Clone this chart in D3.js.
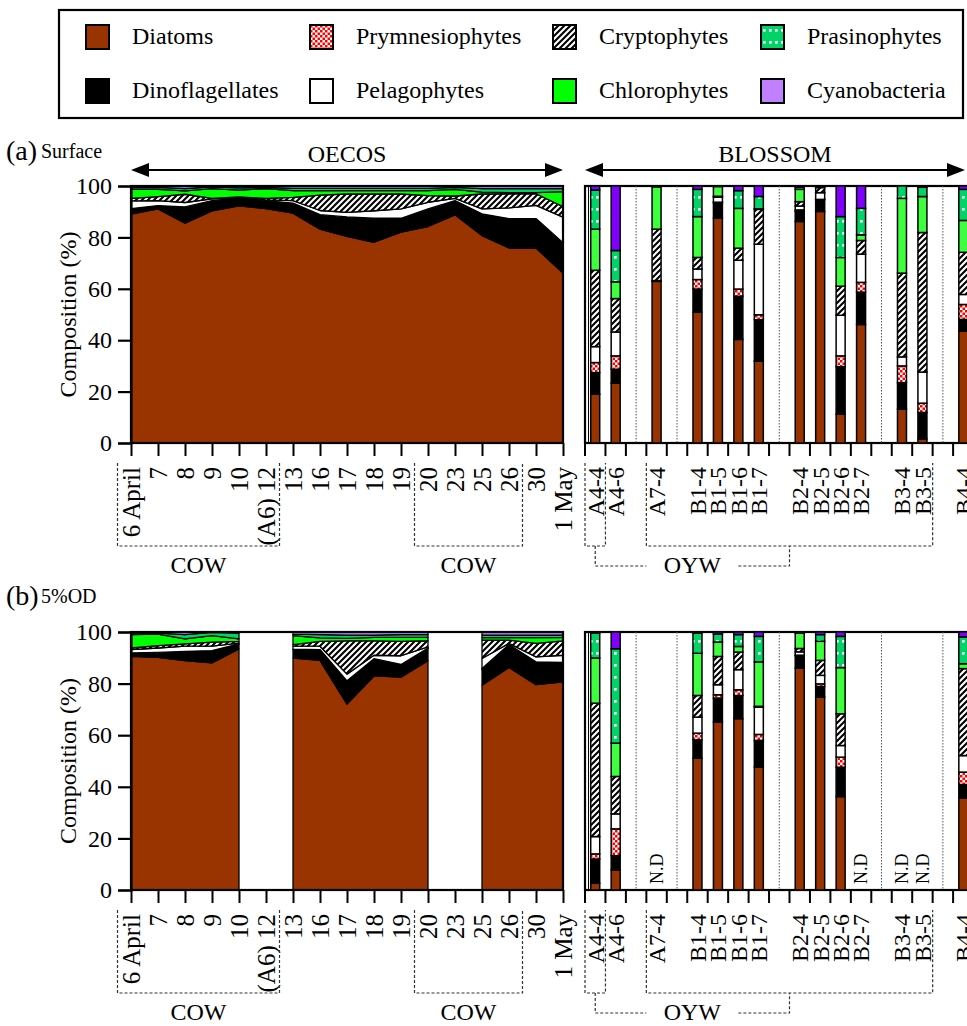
<!DOCTYPE html>
<html>
<head>
<meta charset="UTF-8">
<style>
    * { margin: 0; padding: 0; }
    body { background: #fff; }
    svg { display: block; font-family: "Liberation Serif", "Times New Roman", serif; }
</style>
<script src="https://d3js.org/d3.v7.min.js"></script>
<title>Phytoplankton composition</title>
</head>
<body>
<svg id="chart" width="967" height="1026"></svg>
<script>
// ---------- data ----------
var groups = ["Diatoms", "Dinoflagellates", "Prymnesiophytes", "Pelagophytes",
              "Cryptophytes", "Chlorophytes", "Prasinophytes", "Cyanobacteria"];

var dates = ["6 April", "7", "8", "9", "10", "(A6) 12", "13", "16", "17", "18",
             "19", "20", "23", "25", "26", "30", "1 May"];

// slots of the BLOSSOM panel, "|" entries are empty separator slots
var slots = ["A4-4", "A4-6", "|1", "A7-4", "|2", "B1-4", "B1-5", "B1-6", "B1-7", "|3",
             "B2-4", "B2-5", "B2-6", "B2-7", "|4", "B3-4", "B3-5", "|5", "B4-4"];
var stations = ["A4-4", "A4-6", "A7-4", "B1-4", "B1-5", "B1-6", "B1-7",
                "B2-4", "B2-5", "B2-6", "B2-7", "B3-4", "B3-5", "B4-4"];

// (a) surface, OECOS (%)
var aDia = [89.1, 91.1, 85.3, 90.3, 92.0, 91.2, 89.1, 82.9, 80.1, 77.8, 81.7, 83.9, 88.8, 80.4, 75.5, 75.5, 66.1];
var aDin = [1.9, 1.1, 6.0, 3.8, 3.1, 3.0, 3.7, 5.3, 7.0, 8.8, 5.0, 6.5, 5.3, 8.1, 11.0, 11.0, 11.3];
var aPry = [0.2, 0.2, 0.3, 0.2, 0.1, 0.1, 0.2, 0.3, 0.5, 0.5, 0.4, 0.3, 0.2, 0.3, 0.4, 0.4, 0.5];
var aPel = [3.0, 1.9, 1.7, 0.7, 0.2, 0.3, 0.9, 1.6, 1.8, 2.9, 3.6, 2.6, 0.9, 1.9, 4.1, 5.1, 10.0];
var aCry = [1.0, 1.6, 3.2, 0.2, 0.1, 0.6, 1.3, 6.0, 7.1, 6.5, 5.8, 2.6, 0.9, 5.8, 5.5, 4.5, 4.1];
var aChl = [3.5, 2.8, 1.3, 3.8, 2.6, 3.8, 2.6, 1.7, 1.3, 1.3, 1.3, 1.9, 2.6, 0.7, 0.4, 0.4, 5.8];
var aPra = [0.7, 0.8, 0.9, 0.7, 0.9, 0.5, 0.9, 0.9, 0.9, 0.9, 0.9, 0.9, 0.8, 1.4, 1.6, 1.6, 1.2];
var aCya = [0.6, 0.5, 1.0, 0.3, 0.7, 0.5, 0.9, 0.9, 0.9, 0.9, 0.9, 0.9, 0.5, 1.0, 1.0, 1.0, 1.0];

// (b) 5%OD, OECOS (%), null = no sample
var bDia = [90.6, 90.2, 88.9, 88.0, 93.4, null, 89.9, 89.0, 71.9, 82.8, 82.5, 88.9, null, 79.0, 85.8, 79.2, 80.5];
var bDin = [1.0, 1.6, 3.3, 4.5, 1.8, null, 3.3, 3.9, 8.5, 6.3, 4.6, 4.6, null, 6.0, 8.5, 8.4, 7.1];
var bPry = [0.3, 0.3, 0.3, 0.3, 0.2, null, 0.2, 0.3, 0.5, 0.4, 0.3, 0.3, null, 0.4, 0.4, 0.4, 0.4];
var bPel = [1.3, 1.7, 2.0, 1.7, 0.3, null, 1.1, 1.3, 2.6, 1.3, 3.4, 0.4, null, 3.9, 0.4, 1.9, 2.8];
var bCry = [0.6, 0.9, 0.9, 1.6, 0.7, null, 0.6, 1.9, 12.9, 5.6, 5.6, 2.4, null, 7.1, 1.3, 5.2, 5.6];
var bChl = [5.2, 4.5, 1.9, 2.5, 0.9, null, 3.5, 1.3, 0.9, 1.3, 1.5, 1.3, null, 0.9, 0.9, 2.2, 1.3];
var bPra = [0.6, 0.4, 1.7, 1.3, 2.3, null, 0.6, 1.3, 1.3, 0.9, 1.1, 1.1, null, 1.0, 1.0, 1.0, 0.9];
var bCya = [0.4, 0.4, 1.0, 0.1, 0.4, null, 0.8, 1.0, 1.2, 1.2, 1.0, 1.0, null, 1.2, 1.2, 1.2, 1.2];

// (a) surface, BLOSSOM stations (%)
var sDia = [19.0, 23.3, 62.9, 50.9, 87.5, 40.3, 31.9, 86.2, 90.1, 11.2, 46.1, 13.2, 1.6, 43.5];
var sDin = [8.4, 5.4, 0.3, 9.0, 6.0, 16.8, 16.2, 3.9, 4.5, 18.5, 12.6, 10.3, 10.3, 4.6];
var sPry = [3.9, 5.2, 0.0, 3.7, 0.2, 2.8, 1.9, 0.6, 0.2, 4.2, 3.8, 6.5, 3.6, 5.8];
var sPel = [6.2, 9.3, 0.0, 4.1, 2.0, 11.2, 27.5, 1.5, 2.6, 15.8, 11.0, 3.5, 12.1, 3.9];
var sCry = [29.7, 13.0, 20.0, 4.5, 0.3, 4.7, 13.6, 1.7, 2.0, 11.3, 5.3, 32.6, 54.3, 16.4];
var sChl = [16.0, 6.5, 16.5, 15.9, 3.8, 15.5, 0.2, 4.8, 0.3, 11.2, 2.2, 29.1, 14.0, 12.4];
var sPra = [15.2, 12.2, 0.2, 10.6, 0.1, 6.9, 4.8, 0.8, 0.2, 15.9, 10.3, 4.8, 3.6, 12.1];
var sCya = [1.6, 25.1, 0.1, 1.3, 0.1, 1.8, 4.1, 0.5, 0.1, 11.9, 8.7, 0.0, 0.5, 1.3];

// (b) 5%OD, BLOSSOM stations (%), null = N.D
var tDia = [2.6, 7.8, null, 51.1, 65.3, 66.4, 47.6, 86.2, 74.8, 36.2, null, null, null, 35.7];
var tDin = [9.4, 5.5, null, 7.1, 9.3, 9.0, 10.4, 4.7, 4.1, 11.4, null, null, null, 5.2];
var tPry = [2.0, 10.4, null, 2.6, 1.3, 2.2, 2.3, 0.3, 1.0, 3.9, null, null, null, 4.8];
var tPel = [6.7, 5.8, null, 6.2, 3.9, 7.8, 10.6, 1.3, 3.3, 4.5, null, null, null, 6.4];
var tCry = [51.7, 14.5, null, 8.4, 11.0, 6.8, 0.3, 1.3, 5.8, 12.3, null, null, null, 33.7];
var tChl = [17.5, 12.9, null, 16.4, 5.6, 2.2, 17.2, 6.0, 7.4, 17.9, null, null, null, 1.9];
var tPra = [9.7, 36.6, null, 7.8, 3.1, 4.6, 9.9, 0.2, 2.6, 12.1, null, null, null, 10.4];
var tCya = [0.4, 6.5, null, 0.4, 0.8, 1.0, 1.7, 0.2, 1.0, 1.7, null, null, null, 1.9];

// ---------- helpers ----------
function rows(names, key, cols) {
    return names.map(function (n, i) {
        var r = {}; r[key] = n; r.valid = cols[0][i] != null;
        groups.forEach(function (g, k) { r[g] = cols[k][i] || 0; });
        return r;
    });
}
var areaA = rows(dates, "date", [aDia, aDin, aPry, aPel, aCry, aChl, aPra, aCya]);
var areaB = rows(dates, "date", [bDia, bDin, bPry, bPel, bCry, bChl, bPra, bCya]);
var barA = rows(stations, "st", [sDia, sDin, sPry, sPel, sCry, sChl, sPra, sCya]);
var barB = rows(stations, "st", [tDia, tDin, tPry, tPel, tCry, tChl, tPra, tCya]);

var svg = d3.select("#chart");
var ff = "'Liberation Serif', 'Times New Roman', serif";

// patterns
var defs = svg.append("defs");
var pc = defs.append("pattern").attr("id", "pry").attr("patternUnits", "userSpaceOnUse")
    .attr("width", 5).attr("height", 5);
pc.append("rect").attr("width", 5).attr("height", 5).attr("fill", "#fff");
pc.append("rect").attr("width", 2.5).attr("height", 2.5).attr("fill", "#f00");
pc.append("rect").attr("x", 2.5).attr("y", 2.5).attr("width", 2.5).attr("height", 2.5).attr("fill", "#f00");

var ph = defs.append("pattern").attr("id", "cry").attr("patternUnits", "userSpaceOnUse")
    .attr("width", 6).attr("height", 6);
ph.append("rect").attr("width", 6).attr("height", 6).attr("fill", "#fff");
ph.append("path").attr("d", "M0,6L6,0M-1.5,1.5L1.5,-1.5M4.5,7.5L7.5,4.5")
    .attr("stroke", "#000").attr("stroke-width", 2.1);

var pp = defs.append("pattern").attr("id", "pra").attr("patternUnits", "userSpaceOnUse")
    .attr("width", 6).attr("height", 12);
pp.append("rect").attr("width", 6).attr("height", 12).attr("fill", "#00d466");
pp.append("rect").attr("x", 2).attr("y", 4).attr("width", 2.6).attr("height", 2.6).attr("fill", "#fff");

var barFills = ["#993300", "#000000", "url(#pry)", "#ffffff", "url(#cry)", "#3dff3d", "url(#pra)", "#8000ff"];
var areaFills = ["#993300", "#000000", "url(#pry)", "#ffffff", "url(#cry)", "#00ff00", "url(#pra)", "#b57cff"];
var legendFills = ["#993300", "#000000", "url(#pry)", "#ffffff", "url(#cry)", "#00ff00", "url(#pra)", "#c080ff"];
var barColor = d3.scaleOrdinal().domain(groups).range(barFills);
var areaColor = d3.scaleOrdinal().domain(groups).range(areaFills);

var stack = d3.stack().keys(groups).offset(d3.stackOffsetExpand);

// ---------- legend ----------
svg.append("rect").attr("x", 59).attr("y", 10).attr("width", 904).attr("height", 108)
    .attr("fill", "none").attr("stroke", "#000").attr("stroke-width", 2.2);

var legX = [86, 310, 553, 761];
var leg = svg.append("g").selectAll("g").data(groups).enter().append("g")
    .attr("transform", function (d, i) {
        return "translate(" + legX[Math.floor(i / 2)] + "," + (i % 2 ? 79 : 25) + ")";
    });
leg.append("rect").attr("width", 23).attr("height", 24)
    .attr("fill", function (d, i) { return legendFills[i]; })
    .attr("stroke", "#000").attr("stroke-width", 2);
leg.append("text").attr("x", 46).attr("y", 19).attr("font-size", "24px")
    .text(function (d) { return d; });

// ---------- panels ----------
var xArea = d3.scalePoint().domain(dates).range([131, 563]);
var xBar = d3.scaleBand().domain(slots).range([585, 585 + 19 * 20.45]);
var bw = xBar.bandwidth();

function panel(y0, y100, aData, bData, showNd) {
    var y = d3.scaleLinear().domain([0, 100]).range([y0, y100]);
    var g = svg.append("g");

    // stacked area
    var area = d3.area()
        .defined(function (p) { return p.data.valid; })
        .x(function (p) { return xArea(p.data.date); })
        .y0(function (p) { return y(p[0] * 100); })
        .y1(function (p) { return y(p[1] * 100); });

    g.append("g").selectAll("path").data(stack(aData)).enter().append("path")
        .attr("d", area)
        .attr("fill", function (d) { return areaColor(d.key); })
        .attr("stroke", "#000").attr("stroke-width", 1.3).attr("stroke-linejoin", "round");

    g.append("rect").attr("x", 131).attr("y", y100).attr("width", 432).attr("height", y0 - y100)
        .attr("fill", "none").attr("stroke", "#000").attr("stroke-width", 2.2);

    // y axis
    var ax = g.append("g").attr("transform", "translate(131,0)")
        .call(d3.axisLeft(y).tickValues([0, 20, 40, 60, 80, 100]).tickSize(13).tickPadding(6));
    ax.select(".domain").attr("stroke-width", 2.2);
    ax.selectAll(".tick line").attr("stroke-width", 2.2);
    ax.selectAll("text").attr("font-size", "24px").attr("font-family", ff).attr("fill", "#000");

    g.append("text")
        .attr("transform", "translate(76," + (y0 + y100) / 2 + ") rotate(-90)")
        .attr("text-anchor", "middle").attr("font-size", "24px")
        .text("Composition (%)");

    // x ticks and rotated labels for dates
    var bx = g.append("g").attr("transform", "translate(0," + y0 + ")")
        .call(d3.axisBottom(xArea).tickSize(13).tickFormat(""));
    bx.select(".domain").remove();
    bx.selectAll(".tick line").attr("stroke-width", 2);

    g.append("g").selectAll("text").data(dates).enter().append("text")
        .attr("transform", function (d) { return "translate(" + xArea(d) + "," + (y0 + 24) + ") rotate(-90)"; })
        .attr("text-anchor", "end").attr("dy", "0.35em").attr("font-size", "25px")
        .text(function (d) { return d; });

    // BLOSSOM panel
    var bars = g.append("g");
    bars.append("rect").attr("x", 585).attr("y", y100).attr("width", 400).attr("height", y0 - y100)
        .attr("fill", "none").attr("stroke", "#000").attr("stroke-width", 2.2);
    bars.append("line").attr("x1", 588.5).attr("x2", 588.5).attr("y1", y100).attr("y2", y0)
        .attr("stroke", "#000").attr("stroke-width", 1);

    bars.selectAll(".sep").data(slots.filter(function (s) { return s[0] === "|"; }))
        .enter().append("line").attr("class", "sep")
        .attr("x1", function (s) { return xBar(s) + bw / 2; })
        .attr("x2", function (s) { return xBar(s) + bw / 2; })
        .attr("y1", y100).attr("y2", y0)
        .attr("stroke", "#555").attr("stroke-width", 1).attr("stroke-dasharray", "1.5,1.5");

    var layers = stack(bData);
    bars.selectAll(".layer").data(layers).enter().append("g").attr("class", "layer")
        .attr("fill", function (d) { return barColor(d.key); })
        .selectAll("rect").data(function (d) { return d.filter(function (p) { return p.data.valid; }); })
        .enter().append("rect")
        .attr("x", function (p) { return xBar(p.data.st) + bw / 2 - 4.5; })
        .attr("width", 9)
        .attr("y", function (p) { return y(p[1] * 100); })
        .attr("height", function (p) { return y(p[0] * 100) - y(p[1] * 100); })
        .attr("stroke", "#000").attr("stroke-width", 1.5);

    var edges = d3.range(slots.length + 1).map(function (i) { return 585 + i * bw; })
        .filter(function (v) { return v < 967; });
    bars.selectAll(".bt").data(edges).enter().append("line")
        .attr("x1", function (v) { return v; }).attr("x2", function (v) { return v; })
        .attr("y1", y0).attr("y2", y0 + 13).attr("stroke", "#000").attr("stroke-width", 2);

    bars.selectAll(".bl").data(stations).enter().append("text")
        .attr("transform", function (s) { return "translate(" + (xBar(s) + bw / 2) + "," + (y0 + 24) + ") rotate(-90)"; })
        .attr("text-anchor", "end").attr("dy", "0.35em").attr("font-size", "24px")
        .text(function (s) { return s; });

    if (showNd) {
        bars.selectAll(".nd").data(bData.filter(function (r) { return !r.valid; })).enter().append("text")
            .attr("transform", function (r) { return "translate(" + (xBar(r.st) + bw / 2) + "," + (y0 - 6) + ") rotate(-90)"; })
            .attr("dy", "0.35em").attr("font-size", "18px")
            .text("N.D");
    }

    // group brackets
    var step = xArea.step();
    var dash = function (sel) {
        return sel.attr("fill", "none").attr("stroke", "#333").attr("stroke-width", 1.2).attr("stroke-dasharray", "3,2");
    };
    var top = y0 + 20, bot = y0 + 103, low = y0 + 123;
    [[0, 5], [11, 14]].forEach(function (r) {
        var xl = xArea(dates[r[0]]) - step / 2, xr = xArea(dates[r[1]]) + step / 2;
        dash(g.append("path")).attr("d", "M" + xl + "," + top + "V" + bot + "H" + xr + "V" + top);
        g.append("text").attr("x", (xl + xr) / 2).attr("y", y0 + 130)
            .attr("text-anchor", "middle").attr("font-size", "24px").text("COW");
    });
    var b1l = xBar("A4-4"), b1r = b1l + bw, b2l = xBar("A7-4"), b2r = xBar("|5");
    dash(g.append("path")).attr("d", "M" + b1l + "," + top + "V" + bot + "H" + b1r + "V" + top);
    dash(g.append("path")).attr("d", "M" + b2l + "," + top + "V" + bot + "H" + b2r + "V" + top);
    var c1 = b1l + bw / 2, c2 = xBar("B2-4"), mid = (c1 + c2) / 2;
    dash(g.append("path")).attr("d", "M" + c1 + "," + bot + "V" + low + "H" + (mid - 46));
    dash(g.append("path")).attr("d", "M" + (mid + 46) + "," + low + "H" + c2 + "V" + bot);
    g.append("text").attr("x", mid).attr("y", y0 + 130)
        .attr("text-anchor", "middle").attr("font-size", "24px").text("OYW");

    return y;
}

panel(443, 186, areaA, barA, false);
panel(890, 632, areaB, barB, true);

// ---------- headers ----------
svg.append("text").attr("x", 6).attr("y", 160).attr("font-size", "28px").text("(a)");
svg.append("text").attr("x", 41).attr("y", 158).attr("font-size", "20px").text("Surface");
svg.append("text").attr("x", 6).attr("y", 605).attr("font-size", "28px").text("(b)");
svg.append("text").attr("x", 41).attr("y", 603).attr("font-size", "20px").text("5%OD");

function arrow(x1, x2, yy, label) {
    svg.append("line").attr("x1", x1 + 10).attr("x2", x2 - 10).attr("y1", yy).attr("y2", yy)
        .attr("stroke", "#000").attr("stroke-width", 2.2);
    svg.append("path").attr("d", "M" + x1 + "," + yy + "l18,-7v14z");
    svg.append("path").attr("d", "M" + x2 + "," + yy + "l-18,-7v14z");
    svg.append("text").attr("x", (x1 + x2) / 2).attr("y", yy - 8)
        .attr("text-anchor", "middle").attr("font-size", "24px").text(label);
}
arrow(131, 563, 170, "OECOS");
arrow(585, 965, 170, "BLOSSOM");
</script>
</body>
</html>
